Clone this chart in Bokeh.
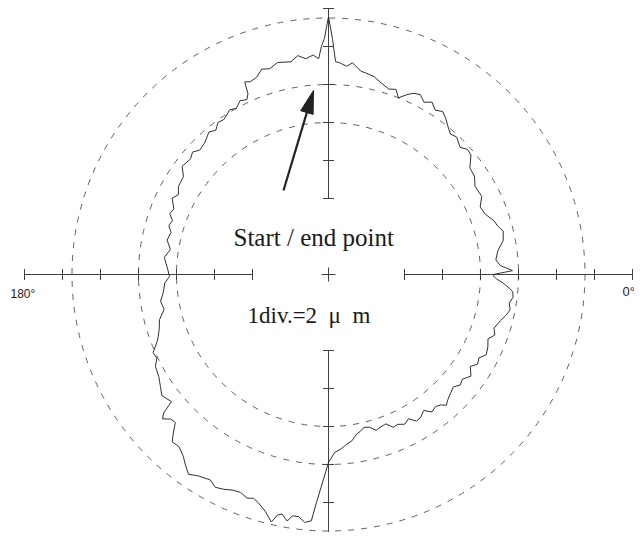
import numpy as np
from bokeh.plotting import figure
from bokeh.models import ColumnDataSource
from bokeh.core.properties import value
from bokeh.embed import file_html
from bokeh.resources import INLINE

# ---------------- data ----------------
# Plot units: 1 division = 38 units (1 div = 2 um)
DIV = 38

# measured profile: angle (deg, 0 deg = right, counter-clockwise) and radial position (plot units)
profile_angle = [
    0, 1.2, 3, 5, 8, 11, 14, 16, 18, 21, 24, 27, 31, 34, 37, 40, 42, 44, 47, 49,
    51, 53, 55, 57, 59, 61, 63, 65, 66.5, 68.4, 70, 72, 74.8, 77, 79.6, 81, 83.5, 85, 87, 88.1,
    89, 90, 91, 91.8, 92.6, 94, 96, 98, 100, 103.5, 106, 108, 110, 112, 113.5, 114, 115, 117, 119, 121,
    124, 126, 128, 130, 133, 136, 138, 140, 143.5, 146, 149.6, 152, 154, 157, 159, 161, 163, 165, 168, 171,
    174, 176, 178, 180.7, 183, 186, 189, 192, 195, 198, 201, 204, 206, 208, 211, 213.7, 216, 219, 220, 221,
    222.5, 224, 226, 227, 229, 231.5, 233, 235, 237, 239, 240, 242, 244, 246, 248, 250, 251.5, 253, 255, 257,
    258, 259, 260.5, 261.5, 263, 264.5, 266, 267, 270, 272, 274, 276, 278, 280, 281.5, 283, 285, 287, 289, 291,
    293, 294.7, 297, 299, 301, 302.8, 305, 307, 309, 310.7, 312, 313.6, 316, 318, 320, 322, 324.5, 327, 329, 331,
    333, 335.6, 338, 340, 342, 345, 347, 349, 351, 353, 354.7, 356, 357.4, 358.5, 359.5,
]
profile_radius = [
    165, 184, 172, 168, 171, 178, 180, 176, 174, 168, 166, 172, 171, 176, 177, 186, 187, 183, 188, 186,
    190, 195, 199, 196, 201, 197, 202, 200, 196, 190, 197, 195, 199, 203, 205, 206, 213, 209, 212, 213,
    235, 258, 236, 228, 216, 220, 217, 221, 216, 218, 214, 216, 210, 208, 210, 198, 193, 195, 190, 192,
    187, 188, 183, 186, 181, 179, 183, 180, 182, 175, 174, 170, 174, 168, 170, 165, 167, 163, 165, 160,
    165, 163, 161, 159, 164, 166, 170, 168, 175, 178, 183, 192, 191, 196, 198, 202, 206, 202, 215, 220,
    214, 213, 224, 229, 228, 233, 238, 244, 240, 238, 237, 241, 239, 236, 235, 238, 236, 239, 245, 254,
    246, 244, 250, 244, 244, 249, 247, 228, 188, 178, 175, 171, 168, 162, 160, 157, 158, 163, 161, 160,
    166, 165, 168, 165, 171, 170, 166, 172, 170, 172, 176, 173, 170, 168, 172, 170, 175, 169, 174, 172,
    177, 175, 172, 177, 174, 178, 182, 185, 183, 186, 185, 180, 174, 168, 165,
]

# reference circles (in divisions)
circle_div = [4.0, 5.0, 6.75]
# axis extents (in divisions) and tick positions
h_axis_div = [2, 3, 4, 5, 6, 7, 8]
v_axis_div = [2, 3, 4, 5, 6, 7]
angle_labels = ["180°", "0°"]

title_text = "Start / end point"
scale_text = "1div.=2\u2002μ\u2002m"

# arrow (tail and tip, plot units)
arrow_tail = (-45, 84)
arrow_tip = (-15, 184)

# ---------------- figure ----------------
W, H = 634, 532
p = figure(width=W, height=H, x_range=(-328, 306), y_range=(-258, 274),
           output_backend="svg", toolbar_location=None, min_border=0)
p.axis.visible = False
p.grid.visible = False
p.outline_line_color = None
p.background_fill_color = "white"
p.border_fill_color = "white"

# dashed reference circles
for c in circle_div:
    p.circle(x=[0], y=[0], radius=c * DIV, fill_color=None, line_color="#606060",
             line_width=1, line_dash="6 7")

# axes segments with ticks
axis_col = "#404040"
h_lo, h_hi = min(h_axis_div) * DIV, max(h_axis_div) * DIV
v_lo, v_hi = min(v_axis_div) * DIV, max(v_axis_div) * DIV
p.segment(x0=[-h_hi, h_lo, 0, 0], y0=[0, 0, v_lo, -v_hi],
          x1=[-h_lo, h_hi, 0, 0], y1=[0, 0, v_hi, -v_lo],
          line_color=axis_col, line_width=1)
tl = 5.5
hx = [s * d * DIV for s in (-1, 1) for d in h_axis_div]
p.segment(x0=hx, y0=[-tl] * len(hx), x1=hx, y1=[tl] * len(hx), line_color=axis_col, line_width=1)
vy = [s * d * DIV for s in (-1, 1) for d in v_axis_div]
p.segment(x0=[-tl] * len(vy), y0=vy, x1=[tl] * len(vy), y1=vy, line_color=axis_col, line_width=1)
# centre cross
p.segment(x0=[-7, 0], y0=[0, -7], x1=[7, 0], y1=[0, 7], line_color=axis_col, line_width=1)

# profile
th = np.deg2rad(np.array(profile_angle + [profile_angle[0] + 360]))
rr = np.array(profile_radius + [profile_radius[0]], dtype=float)
src = ColumnDataSource(dict(x=rr * np.cos(th), y=rr * np.sin(th)))
p.line("x", "y", source=src, line_color="#303030", line_width=1)

# arrow
t = np.array(arrow_tail, float)
h = np.array(arrow_tip, float)
u = (h - t) / np.linalg.norm(h - t)
n = np.array([-u[1], u[0]])
head_len, head_w = 23, 6.5
b = h - head_len * u
p.line([t[0], b[0] + 3 * u[0]], [t[1], b[1] + 3 * u[1]], line_color="#222222", line_width=2.2)
p.patch([h[0], b[0] + head_w * n[0], b[0] - head_w * n[0]],
        [h[1], b[1] + head_w * n[1], b[1] - head_w * n[1]],
        fill_color="#222222", line_color="#222222", line_width=1)

# texts
p.text(x=[-318], y=[-19], text=[angle_labels[0]], text_font=value("Liberation Sans"),
       text_font_size="12px", text_color="#222222", text_baseline="middle", text_align="left")
p.text(x=[294], y=[-17], text=[angle_labels[1]], text_font=value("Liberation Sans"),
       text_font_size="13px", text_color="#222222", text_baseline="middle", text_align="left")
p.text(x=[-95], y=[37], text=[title_text], text_font=value("Liberation Serif"),
       text_font_size="25px", text_color="#1a1a1a", text_baseline="alphabetic", text_align="left")
p.text(x=[-81], y=[-41], text=[scale_text], text_font=value("Liberation Serif"),
       text_font_size="23px", text_color="#1a1a1a", text_baseline="alphabetic", text_align="left")

open("out.html", "w").write(file_html(p, INLINE))
